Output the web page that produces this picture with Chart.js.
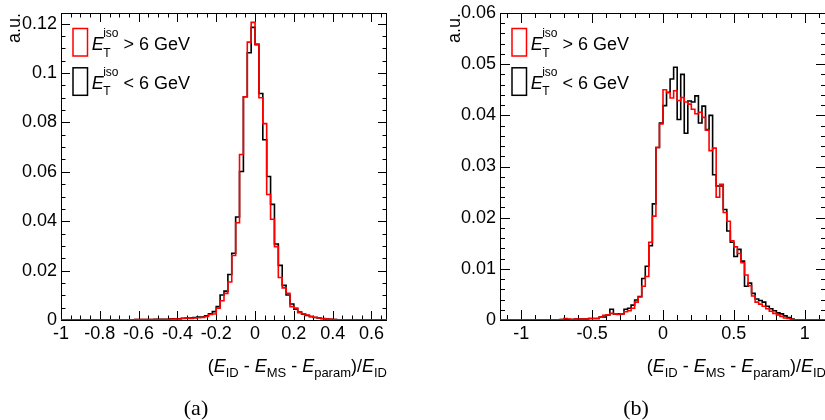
<!DOCTYPE html>
<html>
<head>
<meta charset="utf-8">
<script src="https://cdn.jsdelivr.net/npm/chart.js@4/dist/chart.umd.min.js"></script>
<style>
  html, body { margin: 0; padding: 0; background: #fff; overflow: hidden; }
  #wrap { position: relative; width: 825px; height: 420px; }
  canvas { position: absolute; top: 0; }
  #chartA { left: 0; }
  #chartB { left: 410px; }
</style>
</head>
<body>
<div id="wrap">
  <canvas id="chartA" width="410" height="420" style="width:410px;height:420px"></canvas>
  <canvas id="chartB" width="416" height="420" style="width:416px;height:420px"></canvas>
</div>
<script>
// ---- panel (a): bins of 0.02 starting at -1 ----
const aStart = -1;
const aWidth = 0.02;
// E_T^iso > 6 GeV (red)
const aHigh = [
  0, 0, 0, 0, 0, 0, 0, 0, 0, 0, 0, 0, 0, 0,
  0.0001, 0.0001, 0.0001, 0.0001, 0.0001, 0.0001,
  0.0002, 0.0002, 0.0002, 0.0002, 0.0002,
  0.0002, 0.0002, 0.0002, 0.0002,
  0.0004, 0.0004, 0.0004,
  0.0006, 0.0008, 0.0006, 0.0008, 0.0009, 0.0010,
  0.0014, 0.0022, 0.0024, 0.0048, 0.0078, 0.0108, 0.0154, 0.0261, 0.0394, 0.0670, 0.0904, 0.1125,
  0.1205, 0.1117, 0.0900, 0.0795, 0.0508, 0.0408, 0.0297, 0.0172, 0.0130, 0.0108,
  0.0054, 0.0048, 0.0030, 0.0025, 0.0020, 0.0015, 0.0011, 0.0008, 0.0005, 0.0004,
  0.0003, 0.0002, 0.0001, 0.0001, 0.0001,
  0, 0, 0, 0, 0, 0, 0, 0, 0
];
// E_T^iso < 6 GeV (black)
const aLow = [
  0, 0, 0, 0, 0, 0, 0, 0, 0, 0, 0, 0, 0, 0,
  0.0001, 0.0001, 0.0001, 0.0001, 0.0001, 0.0001,
  0.0002, 0.0002, 0.0002, 0.0002, 0.0002,
  0.0003, 0.0003, 0.0003, 0.0003,
  0.0005, 0.0005, 0.0005,
  0.0007, 0.0008, 0.0008, 0.0010, 0.0012, 0.0012,
  0.0017, 0.0025, 0.0034, 0.0054, 0.0101, 0.0117, 0.0184, 0.0270, 0.0417, 0.0601, 0.0904, 0.1082,
  0.1185, 0.1115, 0.0917, 0.0730, 0.0581, 0.0468, 0.0308, 0.0221, 0.0140, 0.0101,
  0.0065, 0.0044, 0.0032, 0.0023, 0.0018, 0.0013, 0.0010, 0.0008, 0.0006, 0.0004,
  0.0003, 0.0002, 0.0001, 0.0001, 0.0001,
  0, 0, 0, 0, 0, 0, 0, 0, 0
];
const aXTicks = [-1, -0.8, -0.6, -0.4, -0.2, 0, 0.2, 0.4, 0.6];
const aYTicks = [0, 0.02, 0.04, 0.06, 0.08, 0.1, 0.12];

// ---- panel (b): bins of 0.025 starting at -1.15 ----
const bStart = -1.15;
const bWidth = 0.025;
const bHigh = [
  0, 0, 0, 0, 0, 0, 0, 0, 0, 0, 0, 0, 0, 0, 0, 0, 0, 0,
  0.0001, 0.0003, 0.0002, 0.0001,
  0.0002, 0.0002, 0.0002, 0.0002,
  0.0003, 0.0003, 0.0003,
  0.0006, 0.0009, 0.0010, 0.0013, 0.0012, 0.0011, 0.0012, 0.0016, 0.0018, 0.0023, 0.0035,
  0.0045, 0.0066, 0.0085, 0.0152, 0.0203, 0.0337,
  0.0383, 0.0450, 0.0444, 0.0434, 0.0448, 0.0429, 0.0435, 0.0426, 0.0422, 0.0412,
  0.0403, 0.0406, 0.0396, 0.0371, 0.0331, 0.0336,
  0.0240, 0.0265, 0.0210, 0.0193, 0.0155, 0.0143, 0.0130, 0.0112, 0.0088, 0.0067,
  0.0047, 0.0035, 0.0031, 0.0027, 0.0022, 0.0017, 0.0013, 0.0010, 0.0007, 0.0004,
  0.0003, 0.0001,
  0, 0, 0, 0, 0, 0, 0, 0
];
const bLow = [
  0, 0, 0, 0, 0, 0, 0, 0, 0, 0, 0, 0, 0, 0, 0, 0, 0, 0,
  0.0001, 0.0001, 0.0001, 0.0001,
  0.0002, 0.0002, 0.0002, 0.0002,
  0.0003, 0.0003, 0.0003,
  0.0006, 0.0006, 0.0010, 0.0021, 0.0012, 0.0012, 0.0012, 0.0021, 0.0023, 0.0029, 0.0039,
  0.0046, 0.0081, 0.0105, 0.0145, 0.0227, 0.0337,
  0.0385, 0.0419, 0.0445, 0.0471, 0.0494, 0.0392, 0.0480, 0.0365, 0.0428, 0.0426,
  0.0438, 0.0385, 0.0418, 0.0372, 0.0400, 0.0284,
  0.0262, 0.0262, 0.0216, 0.0174, 0.0152, 0.0124, 0.0138, 0.0115, 0.0066, 0.0072,
  0.0052, 0.0041, 0.0038, 0.0035, 0.0027, 0.0022, 0.0018, 0.0014, 0.0012, 0.0008,
  0.0005, 0.0002,
  0, 0, 0, 0, 0, 0, 0, 0
];
const bXTicks = [-1, -0.5, 0, 0.5, 1];
const bYTicks = [0, 0.01, 0.02, 0.03, 0.04, 0.05, 0.06];

const SANS = '"Liberation Sans", Arial, Helvetica, sans-serif';
const SERIF = '"Liberation Serif", "Times New Roman", serif';

/** histogram outline: one point per bin lower edge, plus the last upper edge */
function stepPoints(start, width, values) {
  const pts = values.map((v, i) => ({ x: start + i * width, y: v }));
  pts.push({ x: start + values.length * width, y: values[values.length - 1] });
  return pts;
}

function range(min, max, step) {
  const out = [];
  for (let k = Math.ceil(min / step - 1e-6); k * step <= max + 1e-9; k++) out.push(k * step);
  return out;
}

/**
 * Frame with inward ticks on all four sides (ROOT style)
 */
const frameTicks = {
  id: 'frameTicks',
  beforeDatasetsDraw(chart, args, opts) {
    const { ctx, chartArea: a, scales: { x, y } } = chart;
    const isMajor = (v, list) => list.some(m => Math.abs(m - v) < 1e-6);
    ctx.save();
    ctx.strokeStyle = '#000';
    ctx.lineWidth = 1;
    ctx.strokeRect(a.left + 0.5, a.top + 0.5, a.right - a.left - 1, a.bottom - a.top);
    ctx.beginPath();
    range(x.min, x.max, opts.xMinor).forEach(v => {
      const px = Math.round(x.getPixelForValue(v)) + 0.5;
      const len = isMajor(v, opts.xMajor) ? opts.len : opts.len / 2;
      ctx.moveTo(px, a.bottom); ctx.lineTo(px, a.bottom - len);
      ctx.moveTo(px, a.top); ctx.lineTo(px, a.top + len);
    });
    range(y.min, y.max, opts.yMinor).forEach(v => {
      const py = Math.round(y.getPixelForValue(v)) + 0.5;
      const len = isMajor(v, opts.yMajor) ? opts.len : opts.len / 2;
      ctx.moveTo(a.left, py); ctx.lineTo(a.left + len, py);
      ctx.moveTo(a.right, py); ctx.lineTo(a.right - len, py);
    });
    ctx.stroke();
    ctx.restore();
  }
};

/** draws [text, kind] runs; kind n = normal, i = italic, s = subscript */
function drawRuns(ctx, runs, x, base, align) {
  const fontFor = k => k === 'i' ? `italic 18px ${SANS}` : k === 's' ? `13px ${SANS}` : `18px ${SANS}`;
  let total = 0;
  runs.forEach(([t, k]) => { ctx.font = fontFor(k); total += ctx.measureText(t).width; });
  let cx = align === 'right' ? x - total : x;
  ctx.textAlign = 'left';
  ctx.textBaseline = 'alphabetic';
  runs.forEach(([t, k]) => {
    ctx.font = fontFor(k);
    ctx.fillText(t, cx, k === 's' ? base + 4.8 : base);
    cx += ctx.measureText(t).width;
  });
}

function drawLegendLabel(ctx, x, base, rest) {
  ctx.textAlign = 'left';
  ctx.textBaseline = 'alphabetic';
  ctx.font = `italic 18px ${SANS}`;
  ctx.fillText('E', x, base);
  let cx = x + ctx.measureText('E').width - 0.5;
  ctx.font = `12px ${SANS}`;
  ctx.fillText('iso', cx, base - 12.7);
  ctx.fillText('T', cx, base + 6.5);
  cx += Math.max(ctx.measureText('iso').width, ctx.measureText('T').width);
  ctx.font = `18px ${SANS}`;
  ctx.fillText(rest, cx, base);
}

const panelText = {
  id: 'panelText',
  afterDraw(chart, args, o) {
    const { ctx, chartArea: a } = chart;
    ctx.save();
    ctx.fillStyle = '#000';
    // legend
    const entries = [['#ff0000', ' > 6 GeV'], ['#000000', ' < 6 GeV']];
    entries.forEach(([color, rest], i) => {
      const top = 28.5 + i * 39.3;
      ctx.strokeStyle = color;
      ctx.lineWidth = 1.5;
      ctx.strokeRect(o.legendX, top, 14.5, 27.5);
      drawLegendLabel(ctx, o.legendX + 18.7, 50 + i * 38.6, rest);
    });
    // y title
    ctx.save();
    ctx.translate(o.yTitleX, a.top);
    ctx.rotate(-Math.PI / 2);
    ctx.font = `18px ${SANS}`;
    ctx.textAlign = 'right';
    ctx.textBaseline = 'alphabetic';
    ctx.fillText('a.u.', 0, 0);
    ctx.restore();
    // x title
    drawRuns(ctx, [
      ['(', 'n'], ['E', 'i'], ['ID', 's'], [' - ', 'n'], ['E', 'i'], ['MS', 's'],
      [' - ', 'n'], ['E', 'i'], ['param', 's'], [')/', 'n'], ['E', 'i'], ['ID', 's']
    ], a.right, 371.7, 'right');
    // caption
    ctx.font = `22px ${SERIF}`;
    ctx.textAlign = 'center';
    ctx.fillText(o.caption, o.captionX, 415);
    ctx.restore();
  }
};

function histChart(canvasId, p) {
  const line = (values, color) => ({
    data: stepPoints(p.start, p.width, values),
    borderColor: color,
    borderWidth: 1.6,
    stepped: 'after',
    pointRadius: 0,
    fill: false,
    tension: 0,
  });
  return new Chart(document.getElementById(canvasId), {
    type: 'line',
    data: {
      // red first so it is painted on top
      datasets: [line(p.high, '#ff0000'), line(p.low, '#000000')]
    },
    options: {
      responsive: false,
      animation: false,
      events: [],
      layout: { padding: { left: 0, right: p.padRight, top: 10, bottom: 60 } },
      plugins: {
        legend: { display: false },
        tooltip: { enabled: false },
        frameTicks: { xMajor: p.xTicks, yMajor: p.yTicks, xMinor: p.xMinor, yMinor: p.yMinor, len: p.tickLen },
        panelText: { legendX: p.legendX, yTitleX: p.yTitleX, caption: p.caption, captionX: p.captionX },
      },
      scales: {
        x: {
          type: 'linear',
          min: p.xMin,
          max: p.xMax,
          grid: { display: false, drawTicks: false },
          border: { display: false },
          afterBuildTicks: s => { s.ticks = p.xTicks.map(v => ({ value: v })); },
          afterFit: s => { s.height = 40; },
          ticks: {
            autoSkip: false, maxRotation: 0, minRotation: 0, padding: 5,
            color: '#000', font: { family: SANS, size: 18, lineHeight: 1 },
            callback: v => String(v),
          },
        },
        y: {
          type: 'linear',
          min: 0,
          max: p.yMax,
          grid: { display: false, drawTicks: false },
          border: { display: false },
          afterBuildTicks: s => { s.ticks = p.yTicks.map(v => ({ value: v })); },
          afterFit: s => { s.width = p.yWidth; },
          ticks: {
            autoSkip: false, padding: 4,
            color: '#000', font: { family: SANS, size: 18, lineHeight: 1 },
            callback: v => String(v),
          },
        },
      },
    },
    plugins: [frameTicks, panelText],
  });
}

histChart('chartA', {
  start: aStart, width: aWidth, high: aHigh, low: aLow,
  xMin: -1, xMax: 0.68, yMax: 0.1243,
  xTicks: aXTicks, yTicks: aYTicks, xMinor: 0.05, yMinor: 0.005, tickLen: 9,
  yWidth: 61, padRight: 23,
  legendX: 73, yTitleX: 20, caption: '(a)', captionX: 196,
});

histChart('chartB', {
  start: bStart, width: bWidth, high: bHigh, low: bLow,
  xMin: -1.15, xMax: 1.15, yMax: 0.06,
  xTicks: bXTicks, yTicks: bYTicks, xMinor: 0.1, yMinor: 0.002, tickLen: 10,
  yWidth: 90, padRight: 0,
  legendX: 102, yTitleX: 49.5, caption: '(b)', captionX: 226,
});
</script>
</body>
</html>
